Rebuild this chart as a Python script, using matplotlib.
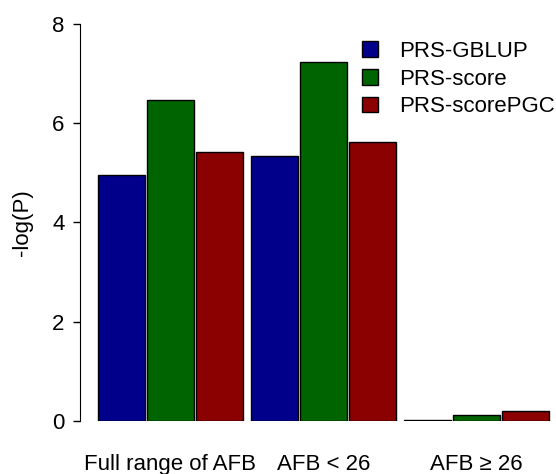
import numpy as np
import matplotlib.pyplot as plt
from matplotlib.patches import Patch

plt.rcParams['font.family'] = ['Liberation Sans', 'DejaVu Sans']

groups = ['Full range of AFB', 'AFB < 26', 'AFB \u2265 26']
methods = ['PRS-GBLUP', 'PRS-score', 'PRS-scorePGC']
colors = ['#00008B', '#006400', '#8B0000']

gblup = [4.96, 5.33, 0.03]
score = [6.46, 7.23, 0.13]
score_pgc = [5.42, 5.61, 0.20]

fig = plt.figure(figsize=(5.56, 4.74), dpi=100)
ax = fig.add_axes([80 / 556, 1 - 421 / 474, 476 / 556, 397.5 / 474])

group_step = 3.12
base = np.arange(len(groups)) * group_step
for k, vals in enumerate([gblup, score, score_pgc]):
    ax.bar(base + k, vals, width=0.96, color=colors[k], edgecolor='black',
           linewidth=1.0, align='center')

ax.set_xlim(-0.847, 8.87)
ax.set_ylim(0, 8)
ax.set_yticks([0, 2, 4, 6, 8])
ax.set_xticks(base + 1)
ax.set_xticklabels(groups)
ax.tick_params(axis='x', length=0, pad=24, labelsize=16)
ax.tick_params(axis='y', length=5, width=1, pad=6, labelsize=16)

for s in ['top', 'right', 'bottom']:
    ax.spines[s].set_visible(False)
ax.spines['left'].set_bounds(0, 8)

ax.set_ylabel('-log(P)', fontsize=16)
ax.yaxis.set_label_coords(-0.099, 0.5)

handles = [Patch(facecolor=c, edgecolor='black', linewidth=1.0) for c in colors]
ax.legend(handles, methods, loc='upper left', bbox_to_anchor=(362 / 556, 1 - 41 / 474),
          bbox_transform=fig.transFigure, frameon=False, fontsize=16,
          handlelength=0.7, handleheight=0.7, handletextpad=0.95,
          labelspacing=0.3, borderpad=0, borderaxespad=0)

fig.savefig('out.png', dpi=100)
